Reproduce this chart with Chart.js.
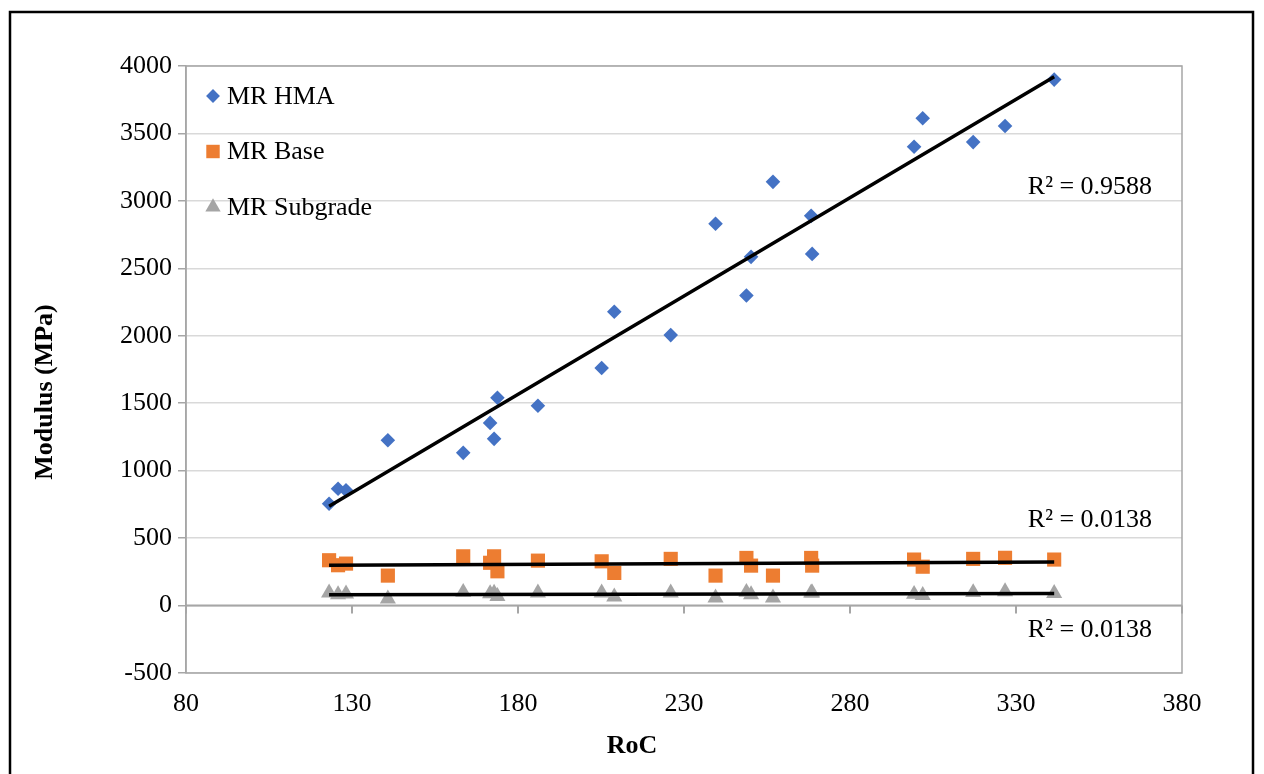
<!DOCTYPE html>
<html>
<head>
<meta charset="utf-8">
<script src="https://cdn.jsdelivr.net/npm/chart.js@4.4.1/dist/chart.umd.min.js"></script>
<style>
  html, body { margin: 0; padding: 0; background: #fff; }
  #wrap { width: 1264px; height: 774px; }
</style>
</head>
<body>
<div id="wrap"><canvas id="modulusChart"></canvas></div>
<script>
// RoC of each test section and the back-calculated moduli (MPa)
const roc        = [123.1, 125.8, 128.2, 140.8, 163.5, 171.6, 172.8, 173.8, 186.0, 205.2, 209.0, 226.0,
                    239.5, 248.8, 250.2, 256.8, 268.3, 268.6, 299.3, 301.9, 317.1, 326.7, 341.5];
const mrHma      = [755, 866, 854, 1225, 1132, 1354, 1236, 1541, 1481, 1761, 2178, 2005,
                    2830, 2299, 2585, 3141, 2889, 2607, 3401, 3613, 3436, 3555, 3899];
const mrBase     = [336, 299, 311, 222, 365, 317, 365, 254, 333, 328, 242, 346,
                    222, 353, 296, 222, 353, 296, 341, 288, 346, 354, 341];
const mrSubgrade = [94, 81, 87, 50, 99, 89, 93, 69, 94, 94, 64, 94,
                    57, 99, 81, 57, 94, 94, 84, 76, 97, 103, 90];

const xTicks = [80, 130, 180, 230, 280, 330, 380];
const yTicks = [-500, 0, 500, 1000, 1500, 2000, 2500, 3000, 3500, 4000];
const seriesNames = ['MR HMA', 'MR Base', 'MR Subgrade'];
const r2Labels = ['R\u00B2 = 0.9588', 'R\u00B2 = 0.0138', 'R\u00B2 = 0.0138'];

const FONT = "'Liberation Serif', 'Times New Roman', serif";
const FSIZE = 26;

function toPoints(xs, ys) {
    return xs.map((x, i) => ({ x: x, y: ys[i] }));
}

// least squares trendline over the range of the data
function trendline(xs, ys) {
    const n = xs.length;
    let sx = 0, sy = 0, sxx = 0, sxy = 0;
    for (let i = 0; i < n; i++) {
        sx += xs[i]; sy += ys[i]; sxx += xs[i] * xs[i]; sxy += xs[i] * ys[i];
    }
    const slope = (n * sxy - sx * sy) / (n * sxx - sx * sx);
    const icpt = (sy - slope * sx) / n;
    const lo = Math.min(...xs), hi = Math.max(...xs);
    return [{ x: lo, y: icpt + slope * lo }, { x: hi, y: icpt + slope * hi }];
}

function trendDataset(ys) {
    return {
        type: 'line',
        data: trendline(roc, ys),
        borderColor: '#000',
        borderWidth: 3.5,
        pointRadius: 0,
        order: 0
    };
}

// frame, plot border and the x axis line that Excel puts at y = 0
const framePlugin = {
    id: 'frame',
    beforeDatasetsDraw(chart) {
        const ctx = chart.ctx;
        const a = chart.chartArea;
        const x = chart.scales.x, y = chart.scales.y;
        ctx.save();
        ctx.strokeStyle = '#A6A6A6';
        ctx.lineWidth = 1.5;
        ctx.strokeRect(a.left, a.top, a.right - a.left, a.bottom - a.top);
        const y0 = y.getPixelForValue(0);
        ctx.lineWidth = 2;
        ctx.beginPath();
        ctx.moveTo(a.left, y0);
        ctx.lineTo(a.right, y0);
        xTicks.forEach(v => {
            const px = x.getPixelForValue(v);
            ctx.moveTo(px, y0);
            ctx.lineTo(px, y0 + 8);
        });
        ctx.stroke();
        ctx.restore();
    },
    afterDraw(chart) {
        const ctx = chart.ctx;
        ctx.save();
        ctx.strokeStyle = '#000';
        ctx.lineWidth = 2.5;
        ctx.strokeRect(10, 12, chart.width - 21, chart.height + 20);
        ctx.restore();
    }
};

// axis titles centred on the whole chart, legend inside plot, R² labels
const textPlugin = {
    id: 'texts',
    afterDraw(chart) {
        const ctx = chart.ctx;
        const a = chart.chartArea;
        const x = chart.scales.x, y = chart.scales.y;
        ctx.save();
        ctx.fillStyle = '#000';
        ctx.textBaseline = 'middle';

        ctx.font = 'bold ' + FSIZE + 'px ' + FONT;
        ctx.textAlign = 'center';
        ctx.fillText('RoC', chart.width / 2, 746);
        ctx.save();
        ctx.translate(45, chart.height / 2 + 5);
        ctx.rotate(-Math.PI / 2);
        ctx.fillText('Modulus (MPa)', 0, 0);
        ctx.restore();

        ctx.font = FSIZE + 'px ' + FONT;
        ctx.textAlign = 'right';
        const r2Anchors = [[371, 3100], [371, 630], [371, -185]];
        r2Labels.forEach((t, i) => {
            ctx.fillText(t, x.getPixelForValue(r2Anchors[i][0]), y.getPixelForValue(r2Anchors[i][1]));
        });

        ctx.textAlign = 'left';
        const scatter = chart.data.datasets.filter(d => d.type !== 'line');
        scatter.forEach((d, i) => {
            const cy = a.top + 30 + i * 55.5;
            ctx.fillStyle = d.backgroundColor;
            Chart.helpers.drawPoint(ctx, { pointStyle: d.pointStyle, radius: d.pointRadius * 0.95, rotation: 0, borderWidth: 0 }, a.left + 27, cy);
            ctx.fillStyle = '#000';
            ctx.fillText(d.label, a.left + 41, cy + 1);
        });
        ctx.restore();
    }
};

new Chart(document.getElementById('modulusChart'), {
    type: 'scatter',
    data: {
        datasets: [
            { label: seriesNames[0], data: toPoints(roc, mrHma), pointStyle: 'rectRot', pointRadius: 7.3,
              backgroundColor: '#4472C4', borderWidth: 0, order: 1 },
            { label: seriesNames[1], data: toPoints(roc, mrBase), pointStyle: 'rect', pointRadius: 10,
              backgroundColor: '#ED7D31', borderWidth: 0, order: 1 },
            { label: seriesNames[2], data: toPoints(roc, mrSubgrade), pointStyle: 'triangle', pointRadius: 9.3,
              backgroundColor: '#A5A5A5', borderWidth: 0, order: 1 },
            trendDataset(mrHma),
            trendDataset(mrBase),
            trendDataset(mrSubgrade)
        ]
    },
    options: {
        responsive: true,
        maintainAspectRatio: false,
        animation: false,
        layout: { padding: { top: 66, right: 82, bottom: 0, left: 0 } },
        plugins: {
            legend: { display: false },
            tooltip: { enabled: false }
        },
        scales: {
            x: {
                type: 'linear',
                min: 80,
                max: 380,
                afterBuildTicks: s => { s.ticks = xTicks.map(v => ({ value: v })); },
                afterFit: s => { s.height = 101; },
                grid: { display: false, drawTicks: false },
                border: { display: false },
                ticks: { padding: 16, color: '#000', font: { family: FONT, size: FSIZE }, maxRotation: 0,
                         callback: v => String(v) }
            },
            y: {
                type: 'linear',
                min: -500,
                max: 4000,
                afterBuildTicks: s => { s.ticks = yTicks.map(v => ({ value: v })); },
                afterFit: s => { s.width = 186; },
                grid: { color: '#D9D9D9', lineWidth: 1.5, tickColor: '#A6A6A6', tickLength: 8 },
                border: { display: true, color: '#A6A6A6', width: 1.5 },
                ticks: { padding: 6, color: '#000', font: { family: FONT, size: FSIZE },
                         callback: v => String(v) }
            }
        }
    },
    plugins: [framePlugin, textPlugin]
});
</script>
</body>
</html>
